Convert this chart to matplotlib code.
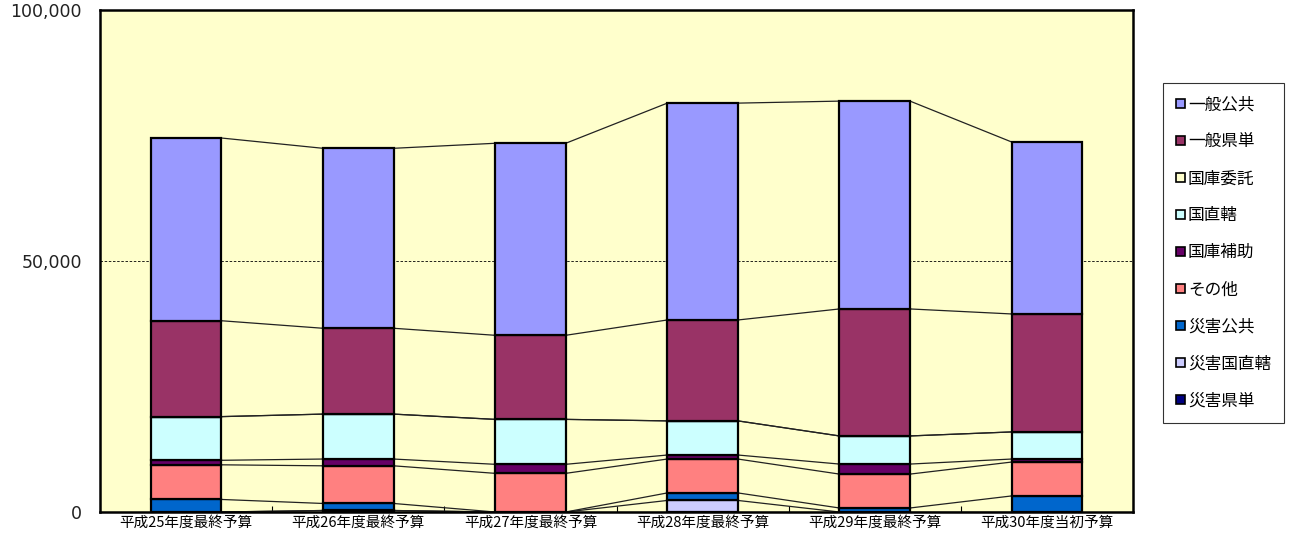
import matplotlib.pyplot as plt
import numpy as np
from matplotlib.patches import Patch

plt.rcParams['font.family'] = ['Noto Sans CJK JP', 'DejaVu Sans']

years = ["平成25年度最終予算", "平成26年度最終予算", "平成27年度最終予算",
         "平成28年度最終予算", "平成29年度最終予算", "平成30年度当初予算"]

# stacked from the bottom up
saigai_kentan = [0, 300, 0, 0, 0, 0]            # 災害県単
saigai_kokuchoku = [0, 0, 0, 2300, 0, 0]        # 災害国直轄
saigai_kokyo = [2500, 1400, 0, 1500, 800, 3200]  # 災害公共
sonota = [6900, 7500, 7700, 6750, 6750, 6750]   # その他
kokko_hojo = [900, 1350, 1800, 800, 2000, 600]  # 国庫補助
kuni_chokkatsu = [8700, 8950, 8950, 6800, 5600, 5400]  # 国直轄
kokko_itaku = [0, 0, 0, 0, 0, 0]                # 国庫委託
ippan_kentan = [19100, 17100, 16750, 20100, 25300, 23500]  # 一般県単
ippan_kokyo = [36400, 35850, 38250, 43200, 41400, 34260]   # 一般公共

series = [
    ("災害県単", saigai_kentan, "#000080"),
    ("災害国直轄", saigai_kokuchoku, "#CCCCFF"),
    ("災害公共", saigai_kokyo, "#0066CC"),
    ("その他", sonota, "#FF8080"),
    ("国庫補助", kokko_hojo, "#660066"),
    ("国直轄", kuni_chokkatsu, "#CCFFFF"),
    ("国庫委託", kokko_itaku, "#FFFFCC"),
    ("一般県単", ippan_kentan, "#993366"),
    ("一般公共", ippan_kokyo, "#9999FF"),
]

fig = plt.figure(figsize=(12.99, 5.37), dpi=100)
ax = fig.add_axes([100 / 1299, 25 / 537, 1033 / 1299, 502 / 537])
ax.set_facecolor("#FFFFCC")

x = np.arange(len(years))
width = 0.41
bottom = np.zeros(len(years))
for name, vals, color in series:
    vals = np.array(vals, dtype=float)
    ax.bar(x, vals, width, bottom=bottom, color=color, edgecolor="black",
           linewidth=1.6, zorder=3)
    top = bottom + vals
    # series lines joining the top of each segment between neighbouring bars
    for i in range(len(years) - 1):
        ax.plot([x[i] + width / 2, x[i + 1] - width / 2], [top[i], top[i + 1]],
                color="#222222", linewidth=0.9, zorder=2)
    bottom = top

ax.set_xlim(-0.5, len(years) - 0.5)
ax.set_ylim(0, 100000)
ax.set_yticks([0, 50000, 100000])
ax.set_yticklabels(["0", "50,000", "100,000"], fontsize=12.5,
                   family="DejaVu Sans", color="#222222")
ax.tick_params(axis="y", length=0, pad=13)
ax.axhline(50000, color="black", linestyle=(0, (3, 2)), linewidth=0.6, zorder=1)

ax.set_xticks(x)
ax.set_xticklabels(years, fontsize=10.5)
ax.tick_params(axis="x", length=0, pad=3)
ax.set_xticks(np.arange(0.5, len(years) - 0.5, 1), minor=True)
ax.tick_params(axis="x", which="minor", direction="in", length=4, width=0.8)

for s in ax.spines.values():
    s.set_linewidth(1.8)

handles = [Patch(facecolor=c, edgecolor="black", linewidth=1.2, label=n)
           for n, _, c in reversed(series)]
leg = fig.legend(handles=handles, loc="upper left",
                 bbox_to_anchor=(1163 / 1299, 1 - 83 / 537),
                 fontsize=12, frameon=True, fancybox=False, edgecolor="black",
                 handlelength=0.5, handleheight=0.5, handletextpad=0.2,
                 labelspacing=1.2, borderpad=0.8, borderaxespad=0)
leg.get_frame().set_linewidth(0.8)

fig.savefig("out.png", dpi=100, facecolor="white")
